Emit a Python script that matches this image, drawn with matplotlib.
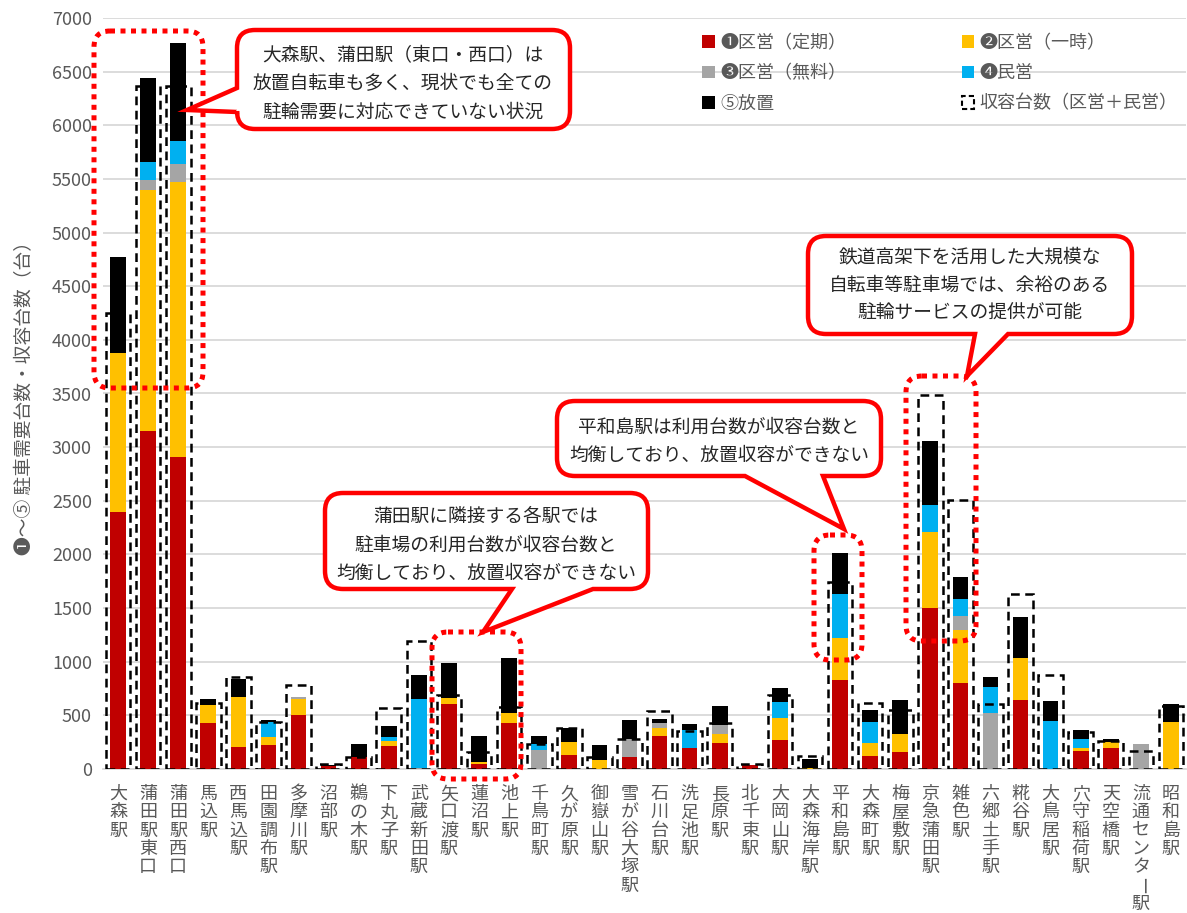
import matplotlib
matplotlib.use("Agg")
import matplotlib.pyplot as plt
import matplotlib.transforms as mtransforms
from matplotlib.patches import FancyBboxPatch, PathPatch, Patch
from matplotlib.path import Path
import numpy as np

plt.rcParams['font.family'] = ['Noto Sans CJK JP', 'DejaVu Sans']

stations = ["大森駅", "蒲田駅東口", "蒲田駅西口", "馬込駅", "西馬込駅", "田園調布駅", "多摩川駅",
            "沼部駅", "鵜の木駅", "下丸子駅", "武蔵新田駅", "矢口渡駅", "蓮沼駅", "池上駅",
            "千鳥町駅", "久が原駅", "御嶽山駅", "雪が谷大塚駅", "石川台駅", "洗足池駅", "長原駅",
            "北千束駅", "大岡山駅", "大森海岸駅", "平和島駅", "大森町駅", "梅屋敷駅", "京急蒲田駅",
            "雑色駅", "六郷土手駅", "糀谷駅", "大鳥居駅", "穴守稲荷駅", "天空橋駅",
            "流通センター駅", "昭和島駅"]

teiki  = [2400, 3150, 2910, 430, 205, 220, 500, 30, 110, 210, 0, 605, 50, 430,
          0, 130, 0, 115, 305, 200, 240, 35, 270, 0, 825, 120, 155, 1500,
          800, 0, 640, 0, 170, 200, 0, 0]
ichiji = [1480, 2250, 2560, 165, 465, 75, 155, 0, 0, 55, 0, 60, 18, 90,
          0, 125, 80, 0, 75, 0, 85, 0, 210, 10, 395, 120, 170, 705,
          495, 0, 390, 0, 30, 55, 0, 435]
muryo  = [0, 90, 170, 0, 0, 0, 20, 0, 0, 0, 10, 0, 0, 0,
          177, 0, 0, 165, 47, 0, 81, 0, 0, 0, 0, 0, 0, 0,
          134, 525, 0, 0, 0, 0, 230, 0]
minei  = [0, 167, 213, 0, 0, 140, 0, 0, 0, 37, 645, 0, 0, 0,
          53, 0, 0, 0, 0, 167, 0, 0, 140, 0, 410, 202, 0, 256,
          151, 242, 0, 447, 78, 0, 0, 0]
houchi = [890, 783, 917, 56, 171, 18, 0, 5, 127, 103, 223, 323, 240, 513,
          75, 130, 141, 177, 43, 56, 183, 0, 131, 83, 382, 109, 317, 600,
          212, 90, 386, 187, 83, 27, 0, 168]
capacity = [4250, 6370, 6370, 615, 860, 441, 783, 45, 115, 571, 1193, 690, 158, 581,
            233, 385, 115, 283, 541, 354, 432, 50, 687, 124, 1746, 612, 550, 3486,
            2507, 606, 1628, 876, 348, 264, 171, 590]

series_labels = ["❶区営（定期）", "❷区営（一時）", "❸区営（無料）", "❹民営", "⑤放置"]
series_colors = ["#C00000", "#FFC000", "#A5A5A5", "#00B0F0", "#000000"]
cap_label = "収容台数（区営＋民営）"
ylabel = "❶～⑤ 駐車需要台数・収容台数（台）"
yticks = list(range(0, 7001, 500))

W, H = 1187, 913
fig = plt.figure(figsize=(W / 100, H / 100), dpi=100)
ax = fig.add_axes([103 / W, 1 - 769 / H, (1186 - 103) / W, (769 - 18) / H])

x = np.arange(len(stations))
bottom = np.zeros(len(stations))
handles = []
for vals, col, lab in zip([teiki, ichiji, muryo, minei, houchi], series_colors, series_labels):
    v = np.array(vals, dtype=float)
    ax.bar(x, v, 0.52, bottom=bottom, color=col, label=lab, zorder=3, linewidth=0)
    bottom += v
    handles.append(Patch(facecolor=col, edgecolor='none', label=lab))

ax.bar(x, capacity, 0.82, fill=False, edgecolor='black', linewidth=1.8,
       linestyle=(0, (3.5, 2.2)), zorder=4)
cap_handle = Patch(facecolor='none', edgecolor='black', linewidth=1.5,
                   linestyle=(0, (2.5, 1.5)), label=cap_label)

ax.set_xlim(-0.5, len(stations) - 0.5)
ax.set_ylim(0, 7000)
ax.set_yticks(yticks)
ax.yaxis.grid(True, color='#D9D9D9', linewidth=1.3, zorder=0)
ax.set_axisbelow(True)
for s in ['top', 'right', 'left']:
    ax.spines[s].set_visible(False)
ax.spines['bottom'].set_color('#D9D9D9')
ax.spines['bottom'].set_linewidth(1.3)
ax.tick_params(axis='both', length=0, colors='#595959', labelsize=13)
ax.tick_params(axis='y', pad=8)
ax.set_xticks(x)
ax.set_xticklabels([])
ax.set_ylabel(ylabel, fontsize=13.5, color='#595959', labelpad=12)

# vertical (stacked) category labels, one character per line
ax_h_px = 769 - 18
trans = mtransforms.blended_transform_factory(ax.transData, ax.transAxes)
for i, name in enumerate(stations):
    for j, ch in enumerate(name):
        yy = -(25 + 18.3 * j) / ax_h_px
        ax.text(i, yy, ch, transform=trans, ha='center', va='center', fontsize=13,
                color='#595959', rotation=(-90 if ch == 'ー' else 0), clip_on=False)

# legend (row-major order like Excel -> reorder for column-major fill)
leg_handles = [handles[0], handles[2], handles[4], handles[1], handles[3], cap_handle]
leg = fig.legend(handles=leg_handles, loc='upper left', bbox_to_anchor=(702 / W, 1 - 34 / H),
                 ncol=2, frameon=False, fontsize=13, handlelength=0.7, handleheight=0.7,
                 handletextpad=0.3, labelspacing=0.68, columnspacing=6.4, borderpad=0,
                 borderaxespad=0)
for t in leg.get_texts():
    t.set_color('#595959')

# overlay for annotations in pixel coordinates
ov = fig.add_axes([0, 0, 1, 1], zorder=10)
ov.set_xlim(0, W)
ov.set_ylim(H, 0)
ov.axis('off')
ov.patch.set_alpha(0)

RED = '#FF0000'


def callout(x0, y0, x1, y1, r, edge, a, b, tip):
    verts = [(x0 + r, y0), (x1 - r, y0), (x1, y0), (x1, y0 + r), (x1, y1 - r), (x1, y1), (x1 - r, y1)]
    codes = [Path.MOVETO, Path.LINETO, Path.CURVE3, Path.CURVE3, Path.LINETO, Path.CURVE3, Path.CURVE3]
    if edge == 'bottom':
        verts += [(b, y1), tip, (a, y1)]
        codes += [Path.LINETO] * 3
    verts += [(x0 + r, y1), (x0, y1), (x0, y1 - r)]
    codes += [Path.LINETO, Path.CURVE3, Path.CURVE3]
    if edge == 'left':
        verts += [(x0, b), tip, (x0, a)]
        codes += [Path.LINETO] * 3
    verts += [(x0, y0 + r), (x0, y0), (x0 + r, y0), (x0 + r, y0)]
    codes += [Path.LINETO, Path.CURVE3, Path.CURVE3, Path.CLOSEPOLY]
    p = PathPatch(Path(verts, codes), facecolor='white', edgecolor=RED, linewidth=3.2,
                  joinstyle='miter')
    ov.add_patch(p)


def dotted(x0, y0, x1, y1, r=16):
    p = FancyBboxPatch((x0, y0), x1 - x0, y1 - y0, boxstyle=f"round,pad=0,rounding_size={r}",
                       fill=False, edgecolor=RED, linewidth=3.6, linestyle=(0, (1, 1.1)))
    ov.add_patch(p)


dotted(94, 31, 203, 388)
dotted(432, 632, 521, 779)
dotted(814, 535, 862, 660)
dotted(906, 376, 976, 641)

callout(237, 30, 570, 129, 18, 'left', 88, 112, (187, 110))
callout(325, 493, 648, 589, 18, 'bottom', 512, 593, (483, 632))
callout(557, 401, 881, 476, 18, 'bottom', 745, 823, (844, 529))
callout(808, 236, 1132, 334, 18, 'bottom', 975, 1008, (967, 376))

tkw = dict(ha='center', va='center', fontsize=13.5, color='#262626', linespacing=1.45)
ov.text(403, 84, "大森駅、蒲田駅（東口・西口）は\n放置自転車も多く、現状でも全ての\n駐輪需要に対応できていない状況", **tkw)
ov.text(486, 545, "蒲田駅に隣接する各駅では\n駐車場の利用台数が収容台数と\n均衡しており、放置収容ができない", **tkw)
ov.text(719, 441, "平和島駅は利用台数が収容台数と\n均衡しており、放置収容ができない", **tkw)
ov.text(970, 285, "鉄道高架下を活用した大規模な\n自転車等駐車場では、余裕のある\n駐輪サービスの提供が可能", **tkw)

fig.savefig("out.png", dpi=100)
